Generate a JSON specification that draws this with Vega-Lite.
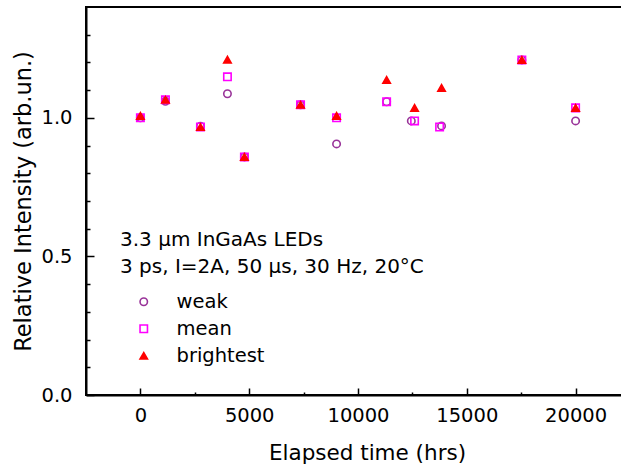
{
  "$schema": "https://vega.github.io/schema/vega-lite/v6.json",
  "autosize": {"type": "none"},
  "padding": {"left": 86, "top": 7, "right": 0, "bottom": 69},
  "width": 544,
  "height": 388,
  "background": "white",
  "config": {
    "font": "DejaVu Sans",
    "view": {"stroke": "black", "strokeWidth": 2},
    "axis": {"grid": false, "domainColor": "black", "domainWidth": 2, "tickColor": "black", "tickWidth": 1.5, "labelColor": "black", "titleColor": "black", "labelFont": "DejaVu Sans", "titleFont": "DejaVu Sans", "labelFontSize": 19.5, "titleFontSize": 21.5, "titleFontWeight": "normal"}
  },
  "data": {"values": [
    {"t": 0, "series": "weak", "v": 1.0},
    {"t": 1150, "series": "weak", "v": 1.06},
    {"t": 2760, "series": "weak", "v": 0.97},
    {"t": 4000, "series": "weak", "v": 1.087},
    {"t": 4780, "series": "weak", "v": 0.859},
    {"t": 7360, "series": "weak", "v": 1.047},
    {"t": 9015, "series": "weak", "v": 0.906},
    {"t": 11315, "series": "weak", "v": 1.058},
    {"t": 12450, "series": "weak", "v": 0.989},
    {"t": 13840, "series": "weak", "v": 0.971},
    {"t": 17530, "series": "weak", "v": 1.209},
    {"t": 20000, "series": "weak", "v": 0.989},
    {"t": 0, "series": "mean", "v": 1.0},
    {"t": 1150, "series": "mean", "v": 1.065},
    {"t": 2760, "series": "mean", "v": 0.967},
    {"t": 4000, "series": "mean", "v": 1.148},
    {"t": 4780, "series": "mean", "v": 0.859},
    {"t": 7360, "series": "mean", "v": 1.047},
    {"t": 9015, "series": "mean", "v": 1.0},
    {"t": 11315, "series": "mean", "v": 1.058},
    {"t": 12600, "series": "mean", "v": 0.989},
    {"t": 13750, "series": "mean", "v": 0.967},
    {"t": 17530, "series": "mean", "v": 1.209},
    {"t": 20000, "series": "mean", "v": 1.036},
    {"t": 0, "series": "brightest", "v": 1.007},
    {"t": 1150, "series": "brightest", "v": 1.065},
    {"t": 2760, "series": "brightest", "v": 0.967},
    {"t": 4000, "series": "brightest", "v": 1.21},
    {"t": 4780, "series": "brightest", "v": 0.859},
    {"t": 7360, "series": "brightest", "v": 1.047},
    {"t": 9015, "series": "brightest", "v": 1.007},
    {"t": 11315, "series": "brightest", "v": 1.137},
    {"t": 12600, "series": "brightest", "v": 1.036},
    {"t": 13840, "series": "brightest", "v": 1.108},
    {"t": 17530, "series": "brightest", "v": 1.209},
    {"t": 20000, "series": "brightest", "v": 1.036}
  ]},
  "mark": {"type": "point", "opacity": 1, "strokeWidth": 1.6},
  "encoding": {
    "x": {
      "field": "t", "type": "quantitative",
      "scale": {"domain": [-2500, 22500], "nice": false, "zero": false},
      "axis": {
        "title": "Elapsed time (hrs)",
        "titlePadding": 18,
        "titleX": 281,
        "values": [0, 2500, 5000, 7500, 10000, 12500, 15000, 17500, 20000],
        "labelExpr": "datum.value % 5000 === 0 ? datum.label : ''",
        "format": "d",
        "tickSize": {"condition": {"test": "datum.value % 5000 === 0", "value": -7}, "value": -3},
        "labelPadding": 18
      }
    },
    "y": {
      "field": "v", "type": "quantitative",
      "scale": {"domain": [0, 1.4], "nice": false},
      "axis": {
        "title": "Relative Intensity (arb.un.)",
        "titleFontSize": 22.5,
        "titlePadding": 5,
        "values": [0, 0.1, 0.2, 0.3, 0.4, 0.5, 0.6, 0.7, 0.8, 0.9, 1.0, 1.1, 1.2, 1.3],
        "format": ".1f",
        "labelExpr": "abs(datum.value * 2 - round(datum.value * 2)) < 0.001 ? datum.label : ''",
        "tickSize": {"condition": {"test": "abs(datum.value * 2 - round(datum.value * 2)) < 0.001", "value": -8}, "value": -4},
        "labelPadding": 22
      }
    },
    "shape": {
      "field": "series", "type": "nominal", "sort": null,
      "scale": {"domain": ["weak", "mean", "brightest"], "range": ["circle", "square", "triangle-up"]},
      "legend": {
        "title": ["3.3 µm InGaAs LEDs", "3 ps, I=2A, 50 µs, 30 Hz, 20°C"],
        "orient": "none",
        "legendX": 34,
        "legendY": 223,
        "titleFont": "DejaVu Sans",
        "titleFontSize": 20,
        "titleFontWeight": "normal",
        "titleColor": "black",
        "titleLineHeight": 27,
        "titleLimit": 500,
        "titlePadding": 15,
        "labelFont": "DejaVu Sans",
        "labelFontSize": 19.5,
        "labelColor": "black",
        "symbolOffset": 14,
        "labelOffset": 23,
        "rowPadding": 6,
        "symbolStrokeWidth": 1.6,
        "encode": {"symbols": {"update": {"size": {"signal": "datum.value === 'brightest' ? 210 : 55"}}}}
      }
    },
    "stroke": {
      "field": "series", "type": "nominal",
      "scale": {"domain": ["weak", "mean", "brightest"], "range": ["#993399", "#ff00ff", "#ff0000"]}
    },
    "fill": {
      "field": "series", "type": "nominal",
      "scale": {"domain": ["weak", "mean", "brightest"], "range": ["transparent", "transparent", "#ff0000"]}
    },
    "size": {
      "field": "series", "type": "nominal",
      "scale": {"domain": ["weak", "mean", "brightest"], "range": [55, 55, 150]}
    }
  }
}
